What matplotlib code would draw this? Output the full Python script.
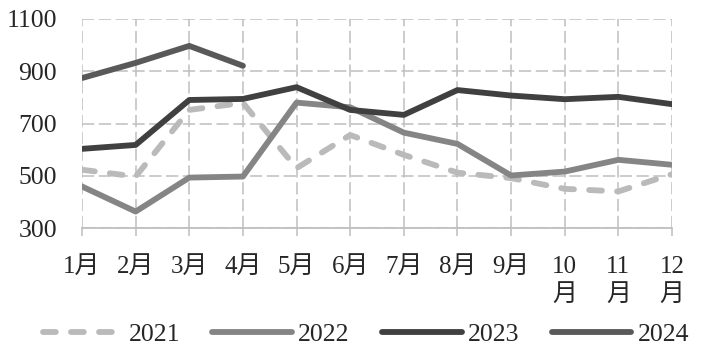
import matplotlib.pyplot as plt

plt.rcParams['font.family'] = ['Liberation Serif', 'Noto Sans CJK SC']

months = ["1月", "2月", "3月", "4月", "5月", "6月", "7月", "8月", "9月",
          "10\n月", "11\n月", "12\n月"]
y2021 = [523, 497, 752, 779, 529, 656, 580, 512, 491, 450, 440, 506]
y2022 = [459, 363, 493, 497, 780, 762, 665, 622, 501, 516, 561, 542]
y2023 = [603, 618, 790, 794, 839, 752, 733, 828, 807, 793, 802, 774]
y2024 = [874, 932, 997, 921]
yticks = [300, 500, 700, 900, 1100]

fig = plt.figure(figsize=(7.01, 3.55), dpi=100)
ax = fig.add_axes([0.117, 0.3577, 0.8416, 0.5888])

x = list(range(len(months)))
lw = 4.2
ax.plot(x, y2021, color="#bababa", lw=lw, dashes=(2.2, 2.6),
        dash_capstyle="round", label="2021")
ax.plot(x, y2022, color="#858585", lw=lw, solid_capstyle="round", label="2022")
ax.plot(x, y2023, color="#404040", lw=lw, solid_capstyle="round", label="2023")
ax.plot(x[:len(y2024)], y2024, color="#595959", lw=lw, solid_capstyle="round",
        label="2024")

ax.set_xlim(0, 11)
ax.set_ylim(300, 1100)
ax.set_xticks(x)
ax.set_xticklabels(months, fontsize=18, linespacing=1.38, va="top")
ax.set_yticks(yticks)
ax.set_yticklabels([str(v) for v in yticks], fontsize=18.5)

ax.grid(True, color="#bfbfbf", lw=1.1, linestyle=(0, (8, 3)))
ax.set_axisbelow(True)
for s in ["top", "right", "left"]:
    ax.spines[s].set_visible(False)
ax.spines["bottom"].set_color("#bfbfbf")
ax.spines["bottom"].set_linewidth(1.3)
ax.tick_params(axis="x", length=6, width=1.1, pad=14,
               colors="#bfbfbf", labelcolor="#262626")
ax.tick_params(axis="y", length=0, pad=18, labelcolor="#262626")

fig.legend(loc="center", bbox_to_anchor=(0.522, 0.058), ncol=4, frameon=False,
           fontsize=18.5, handlelength=3.1, handletextpad=0.25,
           columnspacing=1.25, labelcolor="#262626")

fig.savefig("out.png", dpi=100)
